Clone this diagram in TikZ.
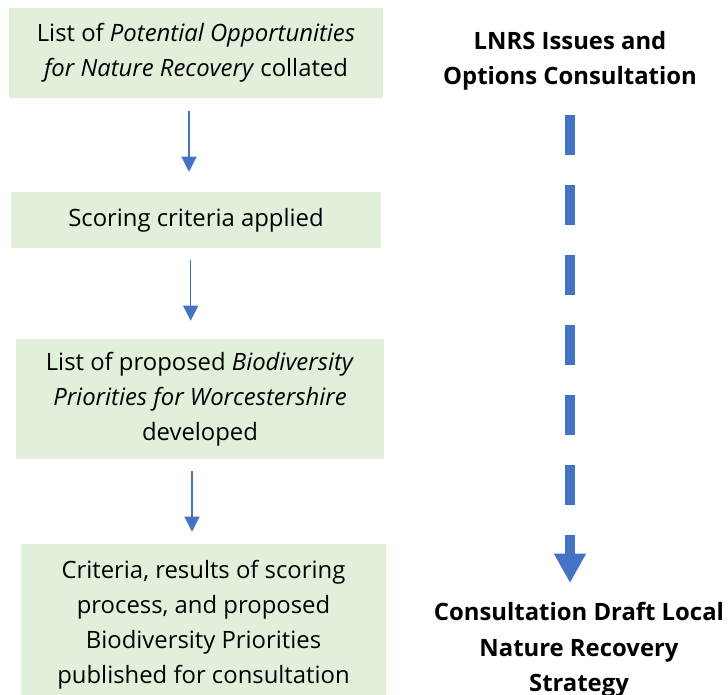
\documentclass[tikz,border=0pt]{standalone}
\usepackage{fontspec}
\usepackage{xcolor}
\usetikzlibrary{arrows.meta}
\setmainfont{Open Sans}
\definecolor{boxgreen}{RGB}{226,239,218}
\definecolor{flowblue}{RGB}{68,114,196}

\begin{document}
\begin{tikzpicture}[x=0.75pt,y=-0.75pt,
  box/.style={fill=boxgreen,inner sep=0pt,align=center,font=\fontsize{17.9pt}{26.3pt}\selectfont},
  label/.style={inner sep=0pt,align=center,font=\fontsize{17.9pt}{26.5pt}\selectfont\bfseries},
  flow/.style={draw=flowblue,line width=0.9pt,-{Triangle[width=11.25pt,length=11.25pt]}},
  consult/.style={draw=flowblue,line width=7.5pt,dash pattern=on 30pt off 22.5pt,-{Triangle[width=22.5pt,length=22pt]}}]
\useasboundingbox (0,0) rectangle (728,695);
\node (collate) at (196,53) [box,minimum width=280.5pt,minimum height=67.5pt] {List of \emph{Potential Opportunities}\\\emph{for Nature Recovery} collated};
\node (scoring) at (196,220) [box,minimum width=277.5pt,minimum height=42pt] {Scoring criteria applied};
\node (priorities) at (200,399) [box,minimum width=276pt,minimum height=90pt] {List of proposed \emph{Biodiversity}\\\emph{Priorities for Worcestershire}\\developed};
\node (published) at (203.5,624.5) [box,minimum width=273.75pt,minimum height=120.75pt] {Criteria, results of scoring\\process, and proposed\\Biodiversity Priorities\\published for consultation};
\node (issues) at (570,61) [label] {LNRS Issues and\\Options Consultation};
\node (draft) at (579,650) [label] {Consultation Draft Local\\Nature Recovery\\Strategy};
\coordinate (dashtop) at (570,115);
\coordinate (dashend) at (570,583);
\draw[flow,shorten <=9.75pt,shorten >=15pt] ([xshift=-5.25pt]collate.south) -- ([xshift=-5.25pt]collate.south |- scoring.north);
\draw[flow,shorten <=9pt,shorten >=13.5pt] ([xshift=-4pt]scoring.south) -- ([xshift=-4pt]scoring.south |- priorities.north);
\draw[flow,shorten <=9pt,shorten >=9pt] ([xshift=-6pt]priorities.south) -- ([xshift=-6pt]priorities.south |- published.north);
\draw[consult] (dashtop) -- (dashend);
\end{tikzpicture}
\end{document}
